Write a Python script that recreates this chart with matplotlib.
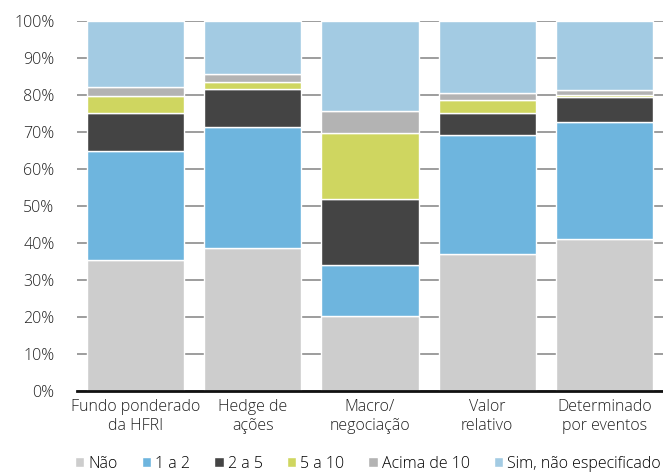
import matplotlib.pyplot as plt
import numpy as np

plt.rcParams['font.family'] = ['Open Sans', 'DejaVu Sans']
plt.rcParams['font.weight'] = 'light'

# Categories and stacked shares (%)
categories = ['Fundo ponderado\nda HFRI', 'Hedge de\nações', 'Macro/\nnegociação',
              'Valor\nrelativo', 'Determinado\npor eventos']
series_names = ['Não', '1 a 2', '2 a 5', '5 a 10', 'Acima de 10', 'Sim, não especificado']
nao = [35.5, 38.7, 20.3, 37.0, 41.2]
um_a_dois = [29.4, 32.5, 13.7, 32.2, 31.5]
dois_a_cinco = [10.2, 10.5, 17.9, 5.9, 6.7]
cinco_a_dez = [4.7, 1.8, 17.8, 3.5, 0.5]
acima_dez = [2.4, 2.2, 5.9, 1.9, 1.4]
sim_nao_espec = [17.8, 14.3, 24.4, 19.5, 18.7]
yticks = [0, 10, 20, 30, 40, 50, 60, 70, 80, 90, 100]

colors = ['#cdcdcd', '#6eb5de', '#444444', '#cfd660', '#b3b3b3', '#a3cbe3']


def main():
    fig = plt.figure(figsize=(6.63, 4.74), dpi=100)
    ax = fig.add_axes([0.116, 0.175, 0.884, 0.781])

    x = np.arange(len(categories))
    bottom = np.zeros(len(categories))
    data = [nao, um_a_dois, dois_a_cinco, cinco_a_dez, acima_dez, sim_nao_espec]
    for name, vals, c in zip(series_names, data, colors):
        ax.bar(x, vals, bottom=bottom, width=0.83, color=c, edgecolor='white',
               linewidth=1, label=name, zorder=3)
        bottom += np.array(vals)

    ax.set_xlim(-0.5, len(categories) - 0.5)
    ax.set_ylim(0, 100)
    ax.set_yticks(yticks)
    ax.set_yticklabels([f'{v}%' for v in yticks])
    ax.set_xticks(x)
    ax.set_xticklabels(categories, linespacing=1.25)
    ax.tick_params(axis='both', length=0, labelsize=11.5, colors='#222222')
    ax.tick_params(axis='y', pad=16)
    ax.tick_params(axis='x', pad=6)
    ax.yaxis.grid(True, color='#8c8c8c', linewidth=1.2, zorder=0)
    for side in ['left', 'right', 'top']:
        ax.spines[side].set_visible(False)
    ax.spines['bottom'].set_linewidth(2)
    ax.spines['bottom'].set_color('#111111')
    ax.spines['bottom'].set_zorder(4)

    fig.legend(loc='lower center', bbox_to_anchor=(0.555, -0.015), ncol=6,
               frameon=False, fontsize=11.5, handlelength=0.6, handleheight=0.6,
               handletextpad=0.25, columnspacing=1.5, borderaxespad=0.2)

    fig.savefig('out.png', dpi=100)


if __name__ == '__main__':
    main()
